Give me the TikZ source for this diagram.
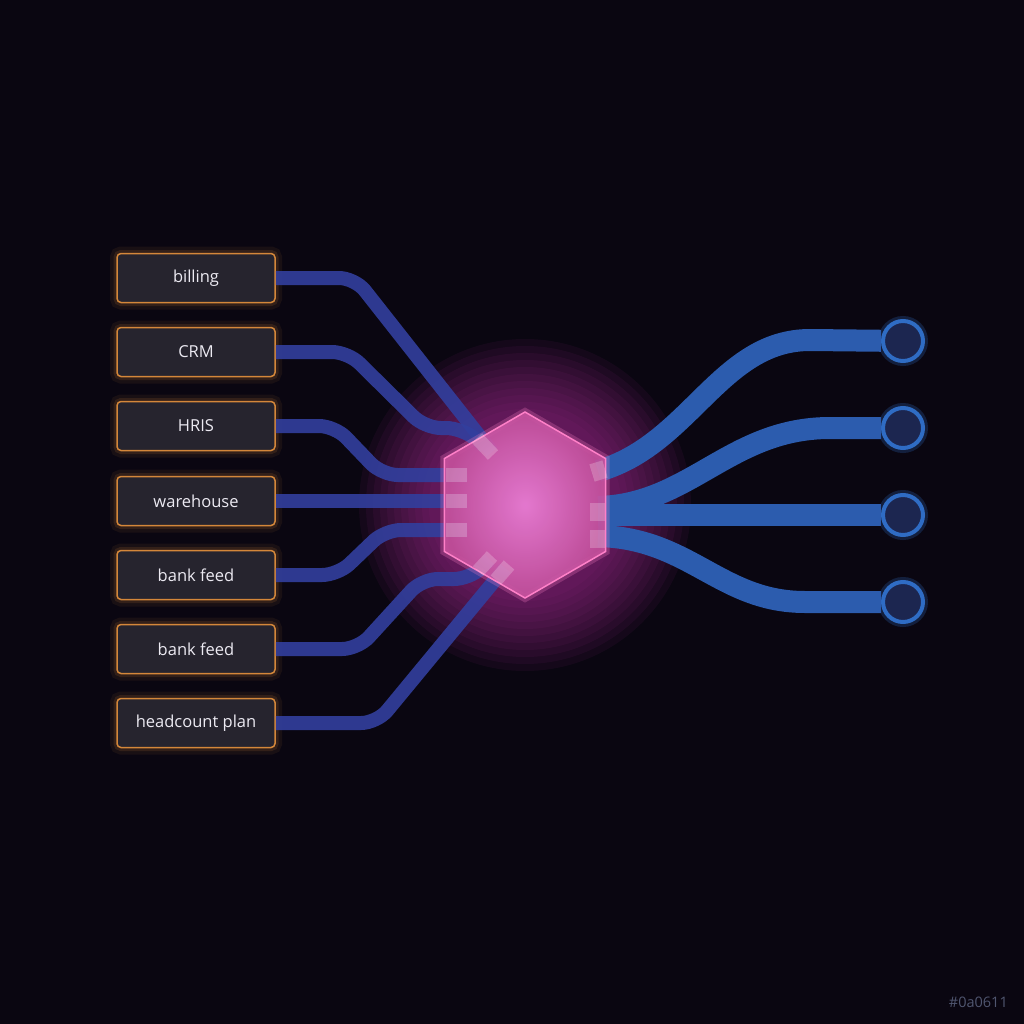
\documentclass[tikz,border=0pt]{standalone}
\usepackage{fontspec}
\setmainfont{Open Sans}
\usetikzlibrary{shapes.geometric}
\definecolor{bg}{HTML}{0A0611}
\definecolor{boxfill}{HTML}{26242E}
\definecolor{boxedge}{HTML}{D4873A}
\definecolor{boxtext}{HTML}{ECEAF2}
\definecolor{lpipec}{HTML}{323F9E}
\definecolor{rpipec}{HTML}{2C5CAE}
\definecolor{hexin}{HTML}{EE80D8}
\definecolor{hexout}{HTML}{C4509C}
\definecolor{hexedge}{HTML}{FF80C8}
\definecolor{glowc}{HTML}{B0309A}
\definecolor{termfill}{HTML}{1C2650}
\definecolor{termedge}{HTML}{2F6CC4}
\definecolor{tagc}{HTML}{505670}
\begin{document}
\begin{tikzpicture}[x=1pt,y=-1pt,
  srcbox/.style={draw=boxedge, fill=boxfill, line width=1.5pt, rounded corners=4pt,
    minimum width=158pt, minimum height=49pt, inner sep=0pt, text=boxtext,
    font=\fontsize{16.5}{19}\selectfont,
    preaction={draw=boxedge, draw opacity=.08, line width=14pt},
    preaction={draw=boxedge, draw opacity=.14, line width=7pt}},
  lpipe/.style={draw=lpipec, line width=14pt, rounded corners=16pt, draw opacity=.9},
  rpipe/.style={draw=rpipec, line width=22pt},
  stub/.style={draw=white, draw opacity=.22, line width=14pt},
  rstub/.style={draw=white, draw opacity=.22, line width=18pt},
  term/.style={circle, minimum size=40pt, inner sep=0pt, fill=termfill, draw=termedge, line width=4pt,
    preaction={draw=termedge, draw opacity=.25, line width=10pt}},
  hexa/.style={regular polygon, regular polygon sides=6, shape border rotate=30,
    minimum size=186pt, inner sep=0pt, outer sep=0pt, shade, inner color=hexin, outer color=hexout,
    fill opacity=.92, draw=hexedge, line width=1.5pt,
    preaction={draw=hexedge, draw opacity=.25, line width=8pt}},
  halo/.style={fill=glowc, fill opacity=.07},
  tag/.style={text=tagc, font=\fontsize{14.5}{17}\selectfont, inner sep=0pt}
]
\fill[bg] (0,0) rectangle (1024,1024);
\useasboundingbox (0,0) rectangle (1024,1024);

\coordinate (hc) at (525,505);
\foreach \r in {96,103,...,166} \fill[halo] (hc) circle (\r);

% source boxes
\node[srcbox] (b1) at (196,278) {billing};
\node[srcbox] (b2) at (196,352) {CRM};
\node[srcbox] (b3) at (196,426) {HRIS};
\node[srcbox] (b4) at (196,501) {warehouse};
\node[srcbox] (b5) at (196,575) {bank feed};
\node[srcbox] (b6) at (196,649) {bank feed};
\node[srcbox] (b7) at (196,723) {headcount plan};

% hub entry coordinates
\coordinate (e1) at (492,452);
\coordinate (e2) at (485,447);
\coordinate (e3) at (467,475);
\coordinate (e4) at (467,501);
\coordinate (e5) at (467,530);
\coordinate (e6) at (490,560);
\coordinate (e7) at (505,568);

% left pipes
\draw[lpipe] (b1.east) -- (355,278) -- (e1);
\draw[lpipe] (b2.east) -- (348,352) -- (425,428) -- (462,428) -- (e2);
\draw[lpipe] (b3.east) -- (335,426) -- (382,475) -- (e3);
\draw[lpipe] (b4.east) -- (e4);
\draw[lpipe] (b5.east) -- (338,575) -- (385,530) -- (e5);
\draw[lpipe] (b6.east) -- (358,649) -- (422,579) -- (470,579) -- (e6);
\draw[lpipe] (b7.east) -- (377,723) -- (e7);

% terminals
\node[term] (t1) at (903,341) {};
\node[term] (t2) at (903,428) {};
\node[term] (t3) at (903,515) {};
\node[term] (t4) at (903,602) {};

% exit coordinates
\coordinate (x1) at (598,471);
\coordinate (x2) at (598,507);
\coordinate (x3) at (598,515);
\coordinate (x4) at (598,536);

% right pipes
\draw[rpipe] (x3) -- (t3);
\draw[rpipe] (x1) .. controls (690,445) and (720,340) .. (810,340) -- (t1);
\draw[rpipe] (x2) .. controls (690,505) and (730,428) .. (830,428) -- (t2);
\draw[rpipe] (x4) .. controls (690,538) and (720,602) .. (805,602) -- (t4);

% hub
\node[hexa] (hub) at (hc) {};

% pipe ends seen through the hub
\draw[stub] (446,475) -- (467,475);
\draw[stub] (446,501) -- (467,501);
\draw[stub] (446,530) -- (467,530);
\draw[stub] (477,438) -- (493,455);
\draw[stub] (478,571) -- (492,556);
\draw[stub] (496,580) -- (509,565);
\draw[rstub] (592,473) -- (605,469);
\draw[rstub] (590,512) -- (605,512);
\draw[rstub] (590,539) -- (605,539);

\node[tag, anchor=east] (tagnode) at (1008,1002) {\#0a0611};
\end{tikzpicture}
\end{document}
